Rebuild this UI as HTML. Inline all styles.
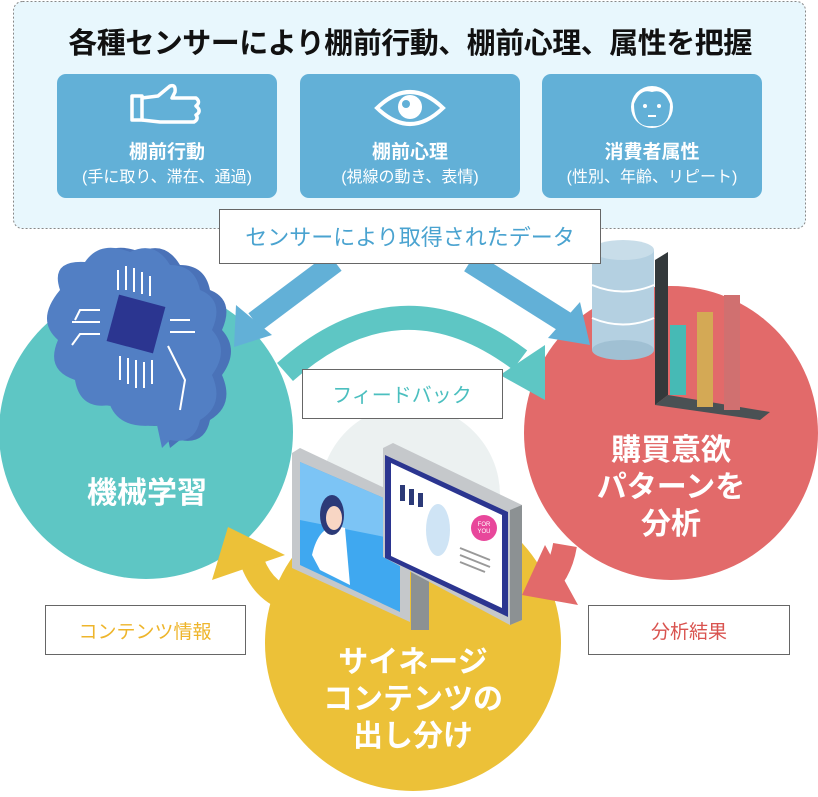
<!DOCTYPE html>
<html><head><meta charset="utf-8"><style>
body{margin:0;width:818px;height:792px;background:#fff;overflow:hidden;font-family:"Liberation Sans","Noto Sans CJK JP",sans-serif}
</style></head><body>
<svg width="818" height="792" viewBox="0 0 818 792" xmlns="http://www.w3.org/2000/svg" style="font-family:'Liberation Sans','Noto Sans CJK JP',sans-serif">
<rect x="13.5" y="1.5" width="792" height="227" rx="9" fill="#e8f7fd" stroke="#888" stroke-dasharray="2,2"/>
<text x="410" y="53" text-anchor="middle" font-size="29" font-weight="bold" fill="#111" letter-spacing="-0.5">各種センサーにより棚前行動、棚前心理、属性を把握</text>
<rect x="57" y="74" width="220" height="124" rx="9" fill="#62b0d7"/>
<rect x="300" y="74" width="220" height="124" rx="9" fill="#62b0d7"/>
<rect x="542" y="74" width="220" height="124" rx="9" fill="#62b0d7"/>
<g fill="none" stroke="#fff" stroke-width="3.5" stroke-linejoin="round">
<rect x="132" y="96" width="10" height="24"/>
<path d="M142 98 L158 96 L170 86 Q176 84 175 92 L172 98 L196 98 Q201 102 196 106 L198 108 Q201 112 196 115 Q199 119 194 122 L160 122 L142 120"/>
</g>
<path d="M377 108 Q410 76 443 108 Q410 140 377 108Z" fill="none" stroke="#fff" stroke-width="4"/>
<circle cx="410" cy="107" r="12" fill="#fff"/>
<circle cx="406" cy="104" r="4" fill="#62b0d7"/>
<circle cx="652" cy="107" r="21" fill="#fff"/>
<path d="M634 104 Q640 88 652 92 Q664 88 670 104 Q670 128 652 126 Q634 128 634 104Z" fill="#62b0d7"/>
<circle cx="645" cy="106" r="2" fill="#fff"/><circle cx="659" cy="106" r="2" fill="#fff"/>
<rect x="648" y="115" width="8" height="2" fill="#fff"/>
<g fill="#fff" text-anchor="middle">
<text x="167" y="158" font-size="19" font-weight="bold">棚前行動</text>
<text x="167" y="182" font-size="16">(手に取り、滞在、通過)</text>
<text x="410" y="158" font-size="19" font-weight="bold">棚前心理</text>
<text x="410" y="182" font-size="16">(視線の動き、表情)</text>
<text x="652" y="158" font-size="19" font-weight="bold">消費者属性</text>
<text x="652" y="182" font-size="16">(性別、年齢、リピート)</text>
</g>
<circle cx="410" cy="495" r="90" fill="#ecf1f1"/>
<circle cx="146" cy="432" r="147" fill="#5ec6c4"/>
<circle cx="671" cy="433" r="147" fill="#e26a6a"/>
<circle cx="413" cy="643" r="148" fill="#ecc138"/>
<path d="M335 262 L255 322" stroke="#62b0d7" stroke-width="22" fill="none"/>
<polygon points="234,347 236,305 272,335" fill="#62b0d7"/>
<path d="M470 262 L565 322" stroke="#62b0d7" stroke-width="22" fill="none"/>
<polygon points="590,345 548,338 580,302" fill="#62b0d7"/>
<path d="M285 372 Q400 270 520 360" stroke="#5ec6c4" stroke-width="24" fill="none"/>
<polygon points="545,400 545,345 500,375" fill="#5ec6c4"/>
<path d="M290 600 Q260 590 250 555" stroke="#ecc138" stroke-width="24" fill="none"/>
<polygon points="228,527 212,580 285,555" fill="#ecc138"/>
<path d="M565 545 Q560 575 540 590" stroke="#e26a6a" stroke-width="24" fill="none"/>
<polygon points="522,595 545,545 578,605" fill="#e26a6a"/>
<g>
<path d="M70 290 Q60 260 95 262 Q110 240 140 252 Q165 240 180 265 Q205 265 210 290 Q235 300 222 330 Q240 350 222 375 Q235 405 210 420 Q205 445 180 440 L170 448 L165 425 Q130 430 120 405 Q90 410 85 380 Q55 370 68 340 Q45 320 70 290Z" fill="#4a72b8"/>
<path d="M60 290 Q50 260 85 262 Q100 240 130 252 Q155 240 170 265 Q195 265 200 290 Q225 300 212 330 Q230 350 212 375 Q225 405 200 420 Q195 445 170 440 L162 448 L157 425 Q120 430 110 405 Q80 410 75 380 Q45 370 58 340 Q35 320 60 290Z" fill="#527fc4"/>
<rect x="112" y="300" width="48" height="48" fill="#2b3590" transform="rotate(15 136 324)"/>
<g stroke="#fff" stroke-width="2" fill="none">
<path d="M118 290 V270 M126 290 V266 M134 292 V268 M142 294 V272 M150 296 V276"/>
<path d="M120 356 V380 M128 358 V384 M136 360 V388 M144 362 V388 M152 360 V384"/>
<path d="M100 310 H80 L75 320 M100 322 H72 M100 334 H80 L72 345 M170 320 H190 M170 332 H195 M168 346 L185 380 L180 410"/>
</g>
</g>
<rect x="592" y="250" width="62" height="100" fill="#b4d0e1"/>
<ellipse cx="623" cy="350" rx="31" ry="10" fill="#a0c0d3"/>
<ellipse cx="623" cy="250" rx="31" ry="10" fill="#c8dde9"/>
<path d="M592 285 Q623 298 654 285 M592 318 Q623 331 654 318" stroke="#fff" stroke-width="2" fill="none"/>
<polygon points="655,260 668,252 668,395 655,405" fill="#33393b"/>
<polygon points="655,405 760,420 770,412 668,395" fill="#4a5154"/>
<rect x="670" y="325" width="16" height="70" fill="#46bab5"/>
<rect x="697" y="312" width="16" height="95" fill="#d4a955"/>
<rect x="724" y="295" width="16" height="115" fill="#d07070"/>
<polygon points="292,453 300,448 410,500 410,622 292,568" fill="#c5c8cb"/>
<polygon points="300,462 400,505 400,612 300,565" fill="#3fa8f0"/>
<polygon points="300,462 400,505 400,540 300,520" fill="#7cc4f5"/>
<path d="M312 555 Q320 520 345 528 L350 585 L320 570Z" fill="#fff"/>
<ellipse cx="332" cy="515" rx="12" ry="20" fill="#2c3a78"/>
<ellipse cx="334" cy="518" rx="8" ry="12" fill="#f8d6c4"/>
<rect x="411" y="570" width="18" height="60" fill="#8c9193"/>
<polygon points="383,448 393,443 522,505 522,620 510,625 383,557" fill="#c5c8cb"/>
<polygon points="510,510 522,505 522,620 510,625" fill="#8c9193"/>
<polygon points="385,455 508,512 508,617 385,558" fill="#2b3590"/>
<polygon points="391,463 502,515 502,608 391,556" fill="#fff"/>
<rect x="400" y="485" width="5" height="16" fill="#2c3a78"/><rect x="409" y="489" width="5" height="16" fill="#2c3a78"/><rect x="418" y="493" width="5" height="14" fill="#2c3a78"/>
<ellipse cx="438" cy="530" rx="12" ry="26" fill="#cfe4f5"/>
<circle cx="484" cy="528" r="13" fill="#e8479b"/>
<text x="484" y="526" font-size="6" fill="#fff" text-anchor="middle">FOR</text>
<text x="484" y="533" font-size="6" fill="#fff" text-anchor="middle">YOU</text>
<path d="M460 548 L490 560 M460 555 L490 567 M460 562 L485 572" stroke="#999" stroke-width="2"/>
<g stroke="#666" stroke-width="1" fill="#fff">
<rect x="219.5" y="209.5" width="381" height="54"/>
<rect x="302.5" y="369.5" width="200" height="49"/>
<rect x="45.5" y="605.5" width="200" height="49"/>
<rect x="588.5" y="605.5" width="201" height="49"/>
</g>
<text x="410" y="245" text-anchor="middle" font-size="22" fill="#4aa3d0">センサーにより取得されたデータ</text>
<text x="402" y="402" text-anchor="middle" font-size="20" fill="#4bbfbf">フィードバック</text>
<text x="145" y="638" text-anchor="middle" font-size="19" fill="#eeb52b">コンテンツ情報</text>
<text x="689" y="638" text-anchor="middle" font-size="19" fill="#d9534f">分析結果</text>
<g fill="#fff" font-size="30" font-weight="bold" text-anchor="middle">
<text x="147" y="503">機械学習</text>
<text x="671" y="460">購買意欲</text>
<text x="671" y="497">パターンを</text>
<text x="671" y="534">分析</text>
<text x="413" y="672">サイネージ</text>
<text x="413" y="709">コンテンツの</text>
<text x="413" y="746">出し分け</text>
</g>
</svg>
</body></html>
